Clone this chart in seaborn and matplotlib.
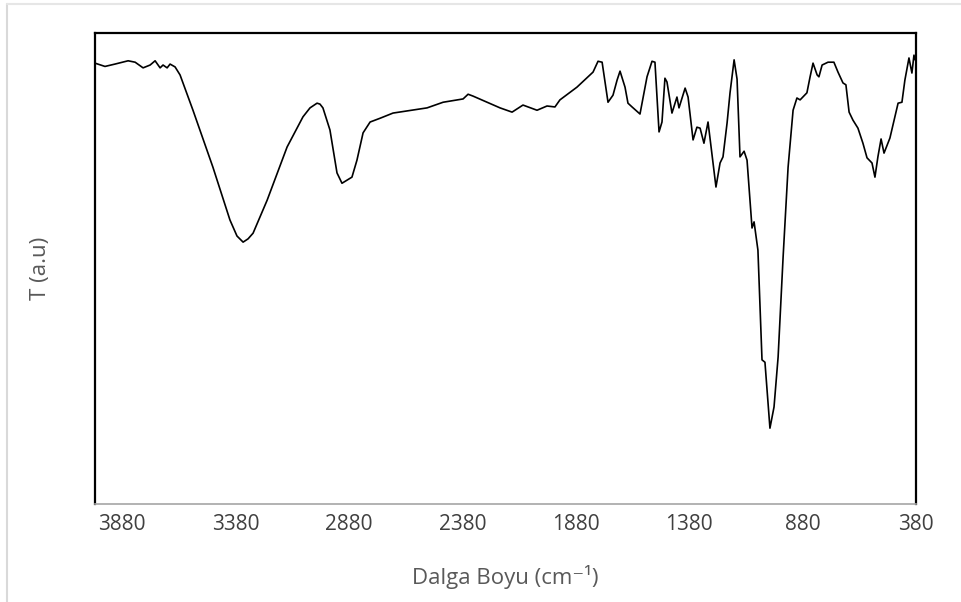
import matplotlib
matplotlib.use("Agg")
import matplotlib.pyplot as plt
import seaborn as sns
import pandas as pd
from matplotlib.lines import Line2D

# FTIR spectrum (wavenumber cm-1, transmittance a.u.)
wavenumber = [4000, 3956, 3912, 3854, 3823, 3788, 3757, 3735, 3713, 3700, 3682, 3669, 3647,
              3625, 3612, 3568, 3480, 3405, 3374, 3347, 3325, 3303, 3241, 3153, 3083, 3052,
              3021, 3008, 2995, 2964, 2933, 2911, 2867, 2845, 2818, 2787, 2743, 2686, 2536,
              2465, 2377, 2355, 2333, 2214, 2161, 2113, 2051, 2007, 1972, 1950, 1875, 1804,
              1782, 1764, 1738, 1716, 1698, 1685, 1663, 1650, 1632, 1597, 1566, 1544, 1531,
              1513, 1500, 1487, 1478, 1456, 1434, 1425, 1398, 1385, 1363, 1346, 1332, 1315,
              1297, 1262, 1244, 1231, 1213, 1200, 1182, 1169, 1156, 1138, 1125, 1112, 1103,
              1094, 1077, 1059, 1046, 1024, 1006, 988, 966, 944, 922, 905, 891, 861, 847, 834,
              816, 808, 794, 768, 742, 724, 702, 689, 675, 658, 636, 614, 596, 574, 561, 548,
              534, 521, 495, 473, 459, 442, 429, 411, 398, 389, 384]
transmittance = [93.6, 92.9, 93.4, 94.1, 93.8, 92.6, 93.2, 94.1, 92.6, 93.2, 92.6, 93.4, 92.8,
                 91.1, 89.4, 83.6, 71.5, 60.3, 56.9, 55.6, 56.3, 57.5, 64.5, 75.8, 82.2, 84.1,
                 85.1, 84.9, 84.1, 79.4, 70.3, 68.1, 69.4, 73.0, 78.8, 81.1, 81.9, 83.0, 84.1,
                 85.3, 86.0, 87.0, 86.6, 84.1, 83.2, 84.7, 83.6, 84.5, 84.3, 85.8, 88.5, 91.7,
                 94.0, 93.8, 85.3, 86.8, 90.0, 91.9, 88.5, 85.1, 84.3, 82.8, 90.7, 94.0, 93.8,
                 79.0, 81.1, 90.4, 89.6, 83.0, 86.4, 84.1, 88.3, 86.4, 77.3, 80.0, 79.8, 76.6,
                 81.1, 67.3, 72.4, 73.7, 80.9, 87.3, 94.3, 90.2, 73.7, 74.9, 73.0, 64.5, 58.6,
                 59.9, 53.9, 30.6, 30.1, 16.1, 20.6, 31.2, 52.4, 71.5, 83.6, 86.2, 85.8, 87.3,
                 90.7, 93.6, 91.1, 90.7, 93.2, 93.8, 93.8, 91.7, 89.4, 89.0, 83.2, 81.5, 79.8,
                 76.6, 73.5, 72.4, 69.4, 73.7, 77.5, 74.5, 77.7, 82.2, 85.1, 85.3, 90.0, 94.7,
                 91.5, 95.3, 94.3]
x_ticks = [3880, 3380, 2880, 2380, 1880, 1380, 880, 380]

df = pd.DataFrame({"wn": wavenumber, "T": transmittance})

sns.set_theme(style="white")
plt.rcParams["font.family"] = ["Open Sans", "DejaVu Sans"]

fig = plt.figure(figsize=(9.62, 6.02), dpi=100)
ax = fig.add_axes([95 / 962, 1 - 504 / 602, 821 / 962, 471 / 602])

sns.lineplot(data=df, x="wn", y="T", ax=ax, color="black", linewidth=1.2,
             estimator=None, sort=False)

ax.set_xlim(4000, 380)
ax.set_ylim(0, 100)
ax.set_xticks(x_ticks)
ax.set_xticklabels([str(t) for t in x_ticks])
ax.set_yticks([])
ax.tick_params(axis="x", length=0, pad=7, labelsize=15, colors="#404040")

for side in ["top", "left", "right"]:
    ax.spines[side].set_color("black")
    ax.spines[side].set_linewidth(1.6)
ax.spines["bottom"].set_color("#a6a6a6")
ax.spines["bottom"].set_linewidth(1.2)

ax.set_xlabel("Dalga Boyu (cm\u207b\u00b9)", fontsize=16, color="#595959", labelpad=22)
ax.set_ylabel("T (a.u)", fontsize=16, color="#595959", labelpad=32)

# light page border
fig.add_artist(Line2D([7 / 962, 7 / 962], [0, 1 - 4 / 602], transform=fig.transFigure,
                      color="#d9d9d9", linewidth=1.5))
fig.add_artist(Line2D([7 / 962, 1], [1 - 4 / 602, 1 - 4 / 602], transform=fig.transFigure,
                      color="#e6e6e6", linewidth=1.5))

fig.savefig("out.png", dpi=100)
